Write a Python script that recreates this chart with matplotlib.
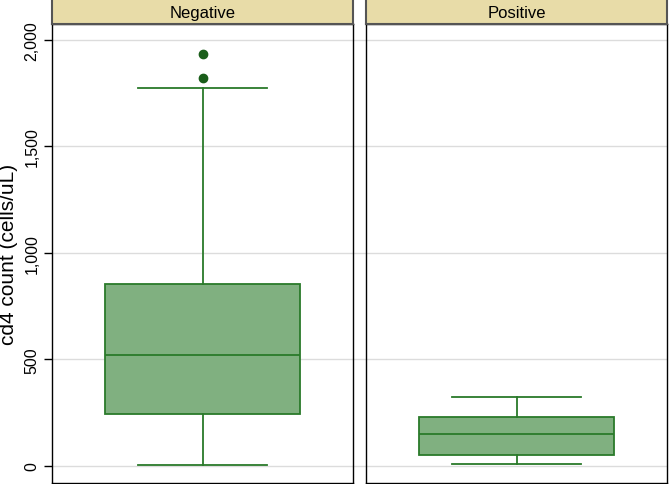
import numpy as np
import matplotlib.pyplot as plt
import matplotlib.transforms as mtrans

plt.rcParams['font.family'] = ['Liberation Sans', 'DejaVu Sans']

groups = ['Negative', 'Positive']
whislo = [5, 9]
q1 = [244, 52]
med = [521, 150]
q3 = [854, 230]
whishi = [1775, 324]
fliers = [[1822, 1934], []]
yticks = [0, 500, 1000, 1500, 2000]

fill = '#80b080'
edge = '#2a7a2a'
strip = '#e8dca8'

fig = plt.figure(figsize=(6.69, 4.85), dpi=100)
W, H = 669, 485
lefts = [52, 366]
pw = 301

for i, g in enumerate(groups):
    ax = fig.add_axes([lefts[i]/W, 1/H, pw/W, 459/H])
    st = [dict(whislo=whislo[i], q1=q1[i], med=med[i], q3=q3[i],
               whishi=whishi[i], fliers=fliers[i], label=g)]
    ax.bxp(st, positions=[0.5], widths=0.645, patch_artist=True,
           boxprops=dict(facecolor=fill, edgecolor=edge, linewidth=1.3),
           medianprops=dict(color=edge, linewidth=1.3),
           whiskerprops=dict(color=edge, linewidth=1.3),
           capprops=dict(color=edge, linewidth=1.3),
           capwidths=0.43,
           flierprops=dict(marker='o', markerfacecolor='#1a5e1a',
                           markeredgecolor='#1a5e1a', markersize=6))
    ax.set_xlim(0, 1)
    ax.set_ylim(-80, 2075)
    ax.set_xticks([])
    ax.set_yticks(yticks)
    ax.grid(axis='y', color='#dcdcdc', linewidth=1)
    ax.set_axisbelow(True)
    for s in ax.spines.values():
        s.set_color('black')
        s.set_linewidth(1)
    if i == 0:
        ax.set_yticklabels([f'{v:,}' for v in yticks], rotation=90,
                           va='center')
        ax.tick_params(axis='y', length=6, width=1, pad=3, labelsize=11.5)
        ax.set_ylabel('cd4 count (cells/uL)', fontsize=15, labelpad=5)
        # grid continues through the gap between panels
        tr = mtrans.blended_transform_factory(ax.transAxes, ax.transData)
        gx = (lefts[1] - lefts[0]) / pw
        for v in yticks:
            ax.plot([1, gx], [v, v], color='#dcdcdc', lw=1, transform=tr,
                    clip_on=False, zorder=0)
    else:
        ax.tick_params(axis='y', left=False, labelleft=False)

    sax = fig.add_axes([lefts[i]/W, 1 - 25/H, pw/W, 26/H])
    sax.set_facecolor(strip)
    sax.set_xticks([])
    sax.set_yticks([])
    for s in sax.spines.values():
        s.set_color('#555555')
        s.set_linewidth(1.5)
    sax.text(0.5, 0.45, g, ha='center', va='center', fontsize=12,
             transform=sax.transAxes)

fig.savefig('out.png', dpi=100)
